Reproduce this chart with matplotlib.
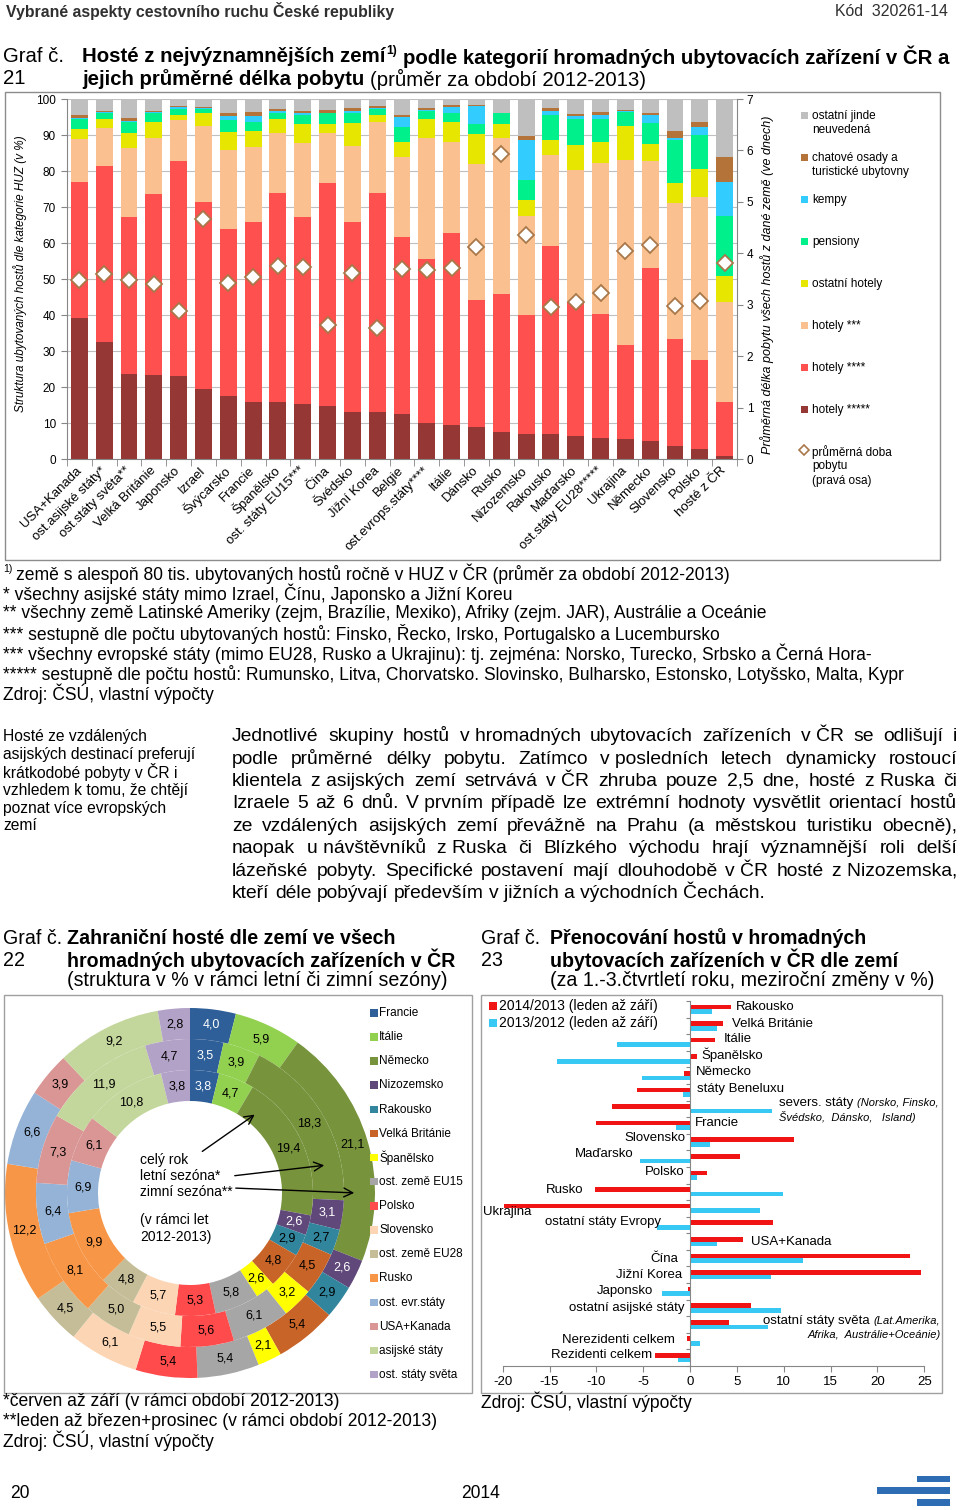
import numpy as np
import matplotlib
matplotlib.use('Agg')
import matplotlib.pyplot as plt
from matplotlib import font_manager
from matplotlib.patches import Rectangle
from matplotlib.lines import Line2D
from matplotlib.transforms import offset_copy

# ---------------- Graf 21: struktura hostu dle kategorie HUZ (v %) ----------------
zeme21 = ['USA+Kanada', 'ost.asijské státy*', 'ost.státy světa**', 'Velká Británie', 'Japonsko',
          'Izrael', 'Švýcarsko', 'Francie', 'Španělsko', 'ost. státy EU15***', 'Čína', 'Švédsko',
          'Jižní Korea', 'Belgie', 'ost.evrops.státy****', 'Itálie', 'Dánsko', 'Rusko', 'Nizozemsko',
          'Rakousko', 'Maďarsko', 'ost.státy EU28*****', 'Ukrajina', 'Německo', 'Slovensko', 'Polsko',
          'hosté z ČR']
hotely5 = [39.2, 32.6, 23.7, 23.3, 23.0, 19.4, 17.5, 15.9, 15.9, 15.2, 14.7, 13.1, 13.1, 12.4,
           9.9, 9.4, 9.0, 7.4, 6.9, 6.9, 6.5, 5.9, 5.5, 5.1, 3.6, 2.8, 0.9]
hotely4 = [37.8, 48.8, 43.6, 50.2, 59.9, 51.9, 46.5, 50.0, 58.1, 52.1, 62.1, 52.8, 60.9, 49.3,
           45.6, 53.3, 35.2, 38.3, 33.1, 52.4, 37.2, 34.4, 26.2, 47.9, 29.7, 24.7, 15.0]
hotely3 = [11.9, 10.6, 19.0, 15.8, 11.3, 21.3, 21.8, 20.9, 16.5, 20.4, 13.7, 21.0, 19.7, 22.3,
           33.8, 25.4, 37.7, 43.4, 27.5, 25.1, 36.6, 41.8, 51.4, 29.8, 37.7, 45.4, 27.8]
ost_hotely = [2.9, 2.4, 4.2, 4.4, 1.4, 3.4, 4.9, 4.3, 3.9, 5.3, 2.5, 6.3, 1.9, 4.0,
              5.1, 5.4, 8.3, 3.9, 4.4, 4.2, 6.9, 6.0, 9.4, 4.7, 5.6, 7.7, 7.1]
pensiony = [2.6, 1.6, 3.2, 2.3, 1.6, 1.2, 3.5, 2.6, 1.6, 2.6, 3.0, 2.8, 1.6, 4.3,
            2.4, 2.7, 2.8, 3.0, 5.6, 7.0, 7.2, 6.3, 4.0, 5.7, 12.0, 9.4, 16.7]
kempy = [0.2, 0.4, 0.2, 0.4, 0.5, 0.2, 1.2, 1.6, 0.8, 0.6, 0.2, 0.8, 0.3, 2.6,
         0.2, 1.5, 5.1, 0.0, 11.1, 1.2, 1.0, 1.2, 0.2, 2.4, 0.7, 2.1, 9.5]
chatove = [1.0, 0.4, 0.9, 0.4, 0.4, 0.3, 0.6, 1.2, 0.4, 0.6, 0.7, 0.6, 0.6, 0.7,
           0.4, 0.6, 0.2, 0.0, 1.1, 0.6, 0.4, 0.7, 0.2, 0.4, 1.9, 1.4, 7.0]
ostatni = [4.4, 3.2, 5.2, 3.2, 1.9, 2.3, 4.0, 3.5, 2.8, 3.2, 3.1, 2.6, 1.9, 4.4,
           2.6, 1.7, 1.7, 4.0, 10.3, 2.6, 4.2, 3.7, 3.1, 4.0, 8.8, 6.5, 16.0]
doba = [3.49, 3.60, 3.49, 3.40, 2.88, 4.67, 3.43, 3.54, 3.75, 3.73, 2.60, 3.62, 2.54, 3.70,
        3.67, 3.71, 4.13, 5.94, 4.36, 2.96, 3.06, 3.22, 4.04, 4.16, 2.97, 3.08, 3.82]
kategorie21 = ['hotely *****', 'hotely ****', 'hotely ***', 'ostatní hotely', 'pensiony', 'kempy',
               'chatové osady a\nturistické ubytovny', 'ostatní jinde\nneuvedená']
barvy21 = ['#953735', '#FF5050', '#FAC090', '#E6E600', '#00F08C', '#33CCFF', '#B47339', '#BFBFBF']

# ---------------- Graf 22: struktura zahranicnich hostu (v %) ----------------
zeme22 = ['Francie', 'Itálie', 'Německo', 'Nizozemsko', 'Rakousko', 'Velká Británie', 'Španělsko',
          'ost. země EU15', 'Polsko', 'Slovensko', 'ost. země EU28', 'Rusko', 'ost. evr.státy',
          'USA+Kanada', 'asijské státy', 'ost. státy světa']
cely_rok = [3.8, 4.7, 19.4, 2.6, 2.9, 4.8, 2.6, 5.8, 5.3, 5.7, 4.8, 9.9, 6.9, 6.1, 10.8, 3.8]
letni = [3.5, 3.9, 18.3, 3.1, 2.7, 4.5, 3.2, 6.1, 5.6, 5.5, 5.0, 8.1, 6.4, 7.3, 11.9, 4.7]
zimni = [4.0, 5.9, 21.1, 2.6, 2.9, 5.4, 2.1, 5.4, 5.4, 6.1, 4.5, 12.2, 6.6, 3.9, 9.2, 2.8]
barvy22 = ['#2F5F98', '#92D050', '#77933C', '#60497A', '#31859C', '#C86428', '#FFFF00', '#A6A6A6',
           '#FF4B4B', '#FCD5B5', '#C4BD97', '#F79646', '#95B3D7', '#D99694', '#C3D69B', '#B3A2C7']

# ---------------- Graf 23: mezirocni zmeny prenocovani (v %) ----------------
zeme23 = ['Rakousko', 'Velká Británie', 'Itálie', 'Španělsko', 'Německo', 'státy Beneluxu',
          'severs. státy', 'Francie', 'Slovensko', 'Maďarsko', 'Polsko', 'Rusko', 'Ukrajina',
          'ostatní státy Evropy', 'USA+Kanada', 'Čína', 'Jižní Korea', 'Japonsko',
          'ostatní asijské státy', 'ostatní státy světa', 'Nerezidenti celkem', 'Rezidenti celkem']
zmena_2014 = [4.4, 3.5, 2.7, 0.7, -0.6, -5.7, -8.3, -10.0, 11.1, 5.3, 1.8, -10.2, -19.9, 8.9,
              5.6, 23.5, 24.7, -0.2, 6.5, 4.2, -0.3, -3.7]
zmena_2013 = [2.3, 2.9, -7.8, -14.2, -5.1, -0.8, 8.7, -1.5, 2.1, -5.3, 0.7, 9.9, 7.5, -3.5,
              2.9, 12.1, 8.6, -3.0, 9.7, 8.3, 1.1, -1.3]
serie23 = ['2014/2013 (leden až září)', '2013/2012 (leden až září)']
# label placement: x in data units, y shift in rows, alignment
pos23 = [(4.9, -0.12, 'left'), (4.5, -0.14, 'left'), (3.6, -0.19, 'left'), (1.2, -0.25, 'left'),
         (0.6, -0.25, 'left'), (0.7, -0.18, 'left'), (9.5, -0.38, 'left'), (0.5, -0.13, 'left'),
         (-0.5, -0.23, 'right'), (-6.0, -0.25, 'right'), (-0.6, -0.22, 'right'),
         (-11.4, -0.12, 'right'), (-22.1, 0.23, 'left'), (-3.1, -0.2, 'right'), (6.5, 0.0, 'left'),
         (-1.3, 0.06, 'right'), (-0.8, 0.0, 'right'), (-4.0, 0.0, 'right'), (-0.6, 0.0, 'right'),
         (7.8, -0.22, 'left'), (-1.6, -0.08, 'right'), (-4.1, -0.18, 'right')]

# ---------------- page setup ----------------
W, H = 960, 1510
names = {f.name for f in font_manager.fontManager.ttflist}
NARROW = 'Liberation Sans Narrow' if 'Liberation Sans Narrow' in names else 'Liberation Sans'
ARIAL = 'Liberation Sans' if 'Liberation Sans' in names else 'DejaVu Sans'
NF = [NARROW, 'DejaVu Sans']
AF = [ARIAL, 'DejaVu Sans']
plt.rcParams['font.family'] = AF
plt.rcParams['axes.linewidth'] = 0.8
plt.rcParams['axes.unicode_minus'] = False

fig = plt.figure(figsize=(W / 100, H / 100), dpi=100)
R = fig.canvas.get_renderer()


def rect(x0, y0, x1, y1):
    return [x0 / W, 1 - y1 / H, (x1 - x0) / W, (y1 - y0) / H]


ov = fig.add_axes([0, 0, 1, 1])
ov.set_xlim(0, W)
ov.set_ylim(H, 0)
ov.axis('off')
ov.patch.set_visible(False)
ov.set_zorder(10)


def width(t):
    return t.get_window_extent(R).width


def fit(s, target, weight='normal'):
    t = ov.text(0, 0, s, fontsize=10, fontweight=weight, family=NF)
    w = width(t)
    t.remove()
    return 10 * target / w


def spw(size, weight='normal', family=None):
    a = ov.text(0, 0, 'a a', fontsize=size, fontweight=weight, family=family or NF)
    b = ov.text(0, 0, 'aa', fontsize=size, fontweight=weight, family=family or NF)
    w = width(a) - width(b)
    a.remove()
    b.remove()
    return w


def runs(x, y, parts, ax=None, trans=None, family=None, color='black'):
    ax = ax or ov
    trans = trans or ax.transData
    dx = 0.0
    for s, size, weight, style, rise, gap in parts:
        dx += gap
        t = ax.text(x, y, s, fontsize=size, fontweight=weight, fontstyle=style,
                    family=family or NF, va='center', ha='left', color=color, clip_on=False,
                    transform=offset_copy(trans, x=dx, y=rise, units='dots'))
        dx += width(t)
    return dx


def line(x, y, s, size, weight='normal', style='normal', ha='left', family=None, color='black', **kw):
    return ov.text(x, y, s, fontsize=size, fontweight=weight, fontstyle=style, ha=ha, va='center',
                   family=family or NF, color=color, **kw)


# font sizes fitted to the page
s_head = fit('Vybrané aspekty cestovního ruchu České republiky', 388, 'bold')
s_title = fit('jejich průměrné délka pobytu', 283, 'bold')
s_title2 = fit('hromadných ubytovacích zařízeních v ČR', 389, 'bold')
s_note = fit('** všechny země Latinské Ameriky (zejm, Brazílie, Mexiko), Afriky (zejm. JAR), Austrálie a Oceánie', 769)
s_para = fit('kteří déle pobývají především v\u00a0jižních a\u00a0východních Čechách.', 535)
s_side = fit('asijských destinací preferují', 193)

# header / footer
line(6, 11, 'Vybrané aspekty cestovního ruchu České republiky', s_head, 'bold', color='#303030')
line(948, 11, 'Kód  320261-14', s_head, ha='right', color='#303030')
line(10, 1493, '20', s_note)
line(461, 1493, '2014', s_note)
for (x0, x1, yy, hh) in [(917, 950, 1479, 6), (877, 950, 1490, 7), (917, 950, 1502, 7)]:
    ov.add_patch(Rectangle((x0, yy - hh / 2), x1 - x0, hh, color='#2E6DB4', lw=0))

# ---------------- Graf 21 ----------------
sp_t = spw(s_title, 'bold')
line(3, 57, 'Graf č.', s_title)
line(3, 79, '21', s_title)
runs(82, 57, [('Hosté z nejvýznamnějších zemí', s_title, 'bold', 'normal', 0, 0),
              ('1)', s_title * 0.6, 'bold', 'normal', 6, 1),
              ('podle kategorií hromadných ubytovacích zařízení v ČR a', s_title, 'bold', 'normal', 0, sp_t)])
runs(82, 79, [('jejich průměrné délka pobytu', s_title, 'bold', 'normal', 0, 0),
              ('(průměr za období 2012-2013)', s_title, 'normal', 'normal', 0, sp_t)])
ov.add_patch(Rectangle((5, 92), 935, 468, fill=False, ec='#8C8C8C', lw=1))

ax = fig.add_axes(rect(67, 99, 737, 459))
x = np.arange(len(zeme21))
bottom = np.zeros(len(zeme21))
for vals, col in zip([hotely5, hotely4, hotely3, ost_hotely, pensiony, kempy, chatove, ostatni], barvy21):
    ax.bar(x, vals, bottom=bottom, width=0.68, color=col, lw=0, zorder=2)
    bottom += np.array(vals)
ax.set_xlim(-0.5, len(zeme21) - 0.5)
ax.set_ylim(0, 100)
ax.set_yticks(range(0, 101, 10))
ax.yaxis.grid(True, color='#BFBFBF', lw=0.8, zorder=0)
ax.set_axisbelow(True)
ax.set_xticks(x)
ax.set_xticklabels(zeme21, rotation=45, ha='right', va='center', rotation_mode='anchor', fontsize=9.5)
ax.set_xticks(np.arange(-0.5, len(zeme21), 1), minor=True)
ax.tick_params(axis='x', which='major', length=0, pad=7)
ax.tick_params(axis='x', which='minor', length=5, color='#868686')
ax.tick_params(axis='y', length=4, pad=4, labelsize=8.5, color='#868686')
for s in ['top', 'right']:
    ax.spines[s].set_visible(False)
for s in ['left', 'bottom']:
    ax.spines[s].set_color('#868686')
ax.patch.set_visible(False)

ax2 = ax.twinx()
ax2.plot(x, doba, ls='none', marker='D', ms=8, mfc='white', mec='#A8784A', mew=1.3, zorder=5)
ax2.set_ylim(0, 7)
ax2.set_yticks(range(0, 8))
ax2.tick_params(axis='y', length=4, pad=3, labelsize=8.5, color='#868686')
for s in ['top', 'left', 'bottom']:
    ax2.spines[s].set_visible(False)
ax2.spines['right'].set_color('#868686')

line(20, 274, 'Struktura ubytovaných hostů dle kategorie HUZ (v %)', 8.5, style='italic',
     ha='center', rotation=90, family=AF)
line(767, 285, 'Průměrná délka pobytu všech hostů z dané země (ve dnech)', 9, style='italic',
     ha='center', rotation=90, family=AF)

# legend (top = last series)
leg_y = [410, 368, 326, 284, 242, 200, 158, 116]
for lab, col, yy in zip(kategorie21, barvy21, leg_y):
    ov.add_patch(Rectangle((801, yy - 4), 7, 7, color=col, lw=0))
    for k, part in enumerate(lab.split('\n')):
        line(812, yy + 14 * k, part, 8.5, family=AF)
ov.add_line(Line2D([804], [450], marker='D', ms=5.5, mfc='white', mec='#A8784A', mew=1.2, ls='none'))
for k, part in enumerate(['průměrná doba', 'pobytu', '(pravá osa)']):
    line(812, 452 + 14.5 * k, part, 8.5, family=AF)

# footnotes
sp_n = spw(s_note)
runs(3, 573.5, [('1)', s_note * 0.6, 'normal', 'normal', 5, 0),
                ('země s alespoň 80 tis. ubytovaných hostů ročně v HUZ v ČR (průměr za období 2012-2013)',
                 s_note, 'normal', 'normal', 0, sp_n * 0.8)])
notes = ['* všechny asijské státy mimo Izrael, Čínu, Japonsko a Jižní Koreu',
         '** všechny země Latinské Ameriky (zejm, Brazílie, Mexiko), Afriky (zejm. JAR), Austrálie a Oceánie',
         '*** sestupně dle počtu ubytovaných hostů: Finsko, Řecko, Irsko, Portugalsko a Lucembursko',
         '*** všechny evropské státy (mimo EU28, Rusko a Ukrajinu): tj. zejména: Norsko, Turecko, Srbsko a Černá Hora-',
         '***** sestupně dle počtu hostů: Rumunsko, Litva, Chorvatsko. Slovinsko, Bulharsko, Estonsko, Lotyšsko, Malta, Kypr',
         'Zdroj: ČSÚ, vlastní výpočty']
for k, s in enumerate(notes):
    line(3, 594 + 20 * k, s, s_note)

# side note
side = ['Hosté ze vzdálených', 'asijských destinací preferují', 'krátkodobé pobyty v ČR i',
        'vzhledem k tomu, že chtějí', 'poznat více evropských', 'zemí']
for k, s in enumerate(side):
    line(3, 736.6 + 17.85 * k, s, s_side)

# justified paragraph
para = ['Jednotlivé skupiny hostů v~hromadných ubytovacích zařízeních v~ČR se odlišují i',
        'podle průměrné délky pobytu. Zatímco v~posledních letech dynamicky rostoucí',
        'klientela z~asijských zemí setrvává v~ČR zhruba pouze 2,5 dne, hosté z~Ruska či',
        'Izraele 5 až 6 dnů. V~prvním případě lze extrémní hodnoty vysvětlit orientací hostů',
        'ze vzdálených asijských zemí převážně na Prahu (a městskou turistiku obecně),',
        'naopak u~návštěvníků z~Ruska či Blízkého východu hrají významnější roli delší',
        'lázeňské pobyty. Specifické postavení mají dlouhodobě v~ČR hosté z~Nizozemska,',
        'kteří déle pobývají především v~jižních a~východních Čechách.']
sp_p = spw(s_para)
for k, ln in enumerate(para):
    words = ln.replace('~', '\u00a0').split(' ')
    ts = [line(232, 736.6 + 22.4 * k, w, s_para) for w in words]
    ws = [width(t) for t in ts]
    gap = sp_p if k == len(para) - 1 else (957 - 232 - sum(ws)) / (len(words) - 1)
    xx = 232
    for t, w in zip(ts, ws):
        t.set_x(xx)
        xx += w + gap

# ---------------- Graf 22 ----------------
line(3, 938.5, 'Graf č.', s_title2)
line(3, 960, '22', s_title2)
line(67, 938.5, 'Zahraniční hosté dle zemí ve všech', s_title2, 'bold')
line(67, 960, 'hromadných ubytovacích zařízeních v ČR', s_title2, 'bold')
line(67, 981, '(struktura v % v rámci letní či zimní sezóny)', s_title2)
ov.add_patch(Rectangle((4, 995), 468, 398, fill=False, ec='#A0A0A0', lw=1))

axd = fig.add_axes(rect(5, 1008, 375, 1378))
ring_w = 31 / 185
for vals, r in [(zimni, 1.0), (letni, 154 / 185), (cely_rok, 123 / 185)]:
    wedges, _ = axd.pie(vals, radius=r, colors=barvy22, startangle=90, counterclock=False,
                        wedgeprops=dict(width=ring_w, edgecolor='none'))
    for i, (wd, v) in enumerate(zip(wedges, vals)):
        ang = np.deg2rad((wd.theta1 + wd.theta2) / 2)
        rm = r - ring_w / 2
        axd.text(rm * np.cos(ang), rm * np.sin(ang), f'{v:.1f}'.replace('.', ','),
                 ha='center', va='center', fontsize=9,
                 color='white' if i in (0, 3) else 'black')
axd.set_xlim(-1, 1)
axd.set_ylim(-1, 1)
axd.set_aspect('equal')
axd.axis('off')

for k, s in enumerate(['celý rok', 'letní sezóna*', 'zimní sezóna**']):
    line(140, 1160 + 16 * k, s, 10, family=AF)
line(140, 1220, '(v rámci let', 10, family=AF)
line(140, 1237, '2012-2013)', 10, family=AF)
for (x0, y0, x1, y1) in [(200, 1153, 257, 1113), (232, 1176, 327, 1165), (233, 1188, 357, 1193)]:
    ov.annotate('', xy=(x1, y1), xytext=(x0, y0),
                arrowprops=dict(arrowstyle='->', color='black', lw=1, mutation_scale=16))

for k, (lab, col) in enumerate(zip(zeme22, barvy22)):
    yy = 1013 + 24.13 * k
    ov.add_patch(Rectangle((370, yy - 4), 7.5, 7.5, color=col, lw=0))
    line(379, yy, lab, 8.5, family=AF)

line(3, 1402, '*červen až září (v rámci období 2012-2013)', s_note)
line(3, 1422, '**leden až březen+prosinec (v rámci období 2012-2013)', s_note)
line(3, 1441, 'Zdroj: ČSÚ, vlastní výpočty', s_note)

# ---------------- Graf 23 ----------------
line(481, 938.5, 'Graf č.', s_title2)
line(481, 960, '23', s_title2)
line(550, 938.5, 'Přenocování hostů v hromadných', s_title2, 'bold')
line(550, 960, 'ubytovacích zařízeních v ČR dle zemí', s_title2, 'bold')
line(550, 981, '(za 1.-3.čtvrtletí roku, meziroční změny v %)', s_title2)
ov.add_patch(Rectangle((481, 995), 461, 398, fill=False, ec='#A0A0A0', lw=1))
line(481, 1402, 'Zdroj: ČSÚ, vlastní výpočty', s_note)

RED, BLUE = '#F01414', '#38C8F4'
axb = fig.add_axes(rect(502.7, 1001, 924.3, 1366))
y = np.arange(len(zeme23))
axb.barh(y - 0.14, zmena_2014, height=0.28, color=RED, lw=0)
axb.barh(y + 0.14, zmena_2013, height=0.28, color=BLUE, lw=0)
axb.set_xlim(-20, 25)
axb.set_ylim(len(zeme23) - 0.5, -0.5)
axb.set_xticks(range(-20, 26, 5))
axb.tick_params(axis='x', labelsize=9.5, length=4, color='#868686', pad=3)
axb.set_yticks(np.arange(-0.5, len(zeme23), 1))
axb.set_yticklabels([])
axb.tick_params(axis='y', length=3, color='#868686')
axb.spines['left'].set_position(('data', 0))
for s in ['top', 'right']:
    axb.spines[s].set_visible(False)
for s in ['left', 'bottom']:
    axb.spines[s].set_color('#868686')
axb.patch.set_visible(False)

sp_b = spw(9.5, family=AF)
for i, (name, (px, dy, ha)) in enumerate(zip(zeme23, pos23)):
    if name == 'severs. státy':
        runs(px, i + dy, [(name, 9.5, 'normal', 'normal', 0, 0),
                          ('(Norsko, Finsko,', 8, 'normal', 'italic', 0, sp_b)], ax=axb, family=AF)
        axb.text(px, i + 0.5, 'Švédsko,  Dánsko,   Island)', fontsize=8, fontstyle='italic',
                 va='center', ha='left', clip_on=False)
    elif name == 'ostatní státy světa':
        runs(px, i + dy, [(name, 9.5, 'normal', 'normal', 0, 0),
                          ('(Lat.Amerika,', 8, 'normal', 'italic', 0, sp_b)], ax=axb, family=AF)
        axb.text(26.8, i + 0.66, 'Afrika,  Austrálie+Oceánie)', fontsize=8, fontstyle='italic',
                 va='center', ha='right', clip_on=False)
    else:
        axb.text(px, i + dy, name, fontsize=9.5, va='center', ha=ha, clip_on=False)

for k, (lab, col) in enumerate(zip(serie23, [RED, BLUE])):
    yy = 1006 + 17 * k
    ov.add_patch(Rectangle((489, yy - 4), 8, 8, color=col, lw=0))
    line(499, yy, lab, 10, family=AF)

fig.savefig('out.png', dpi=100)
